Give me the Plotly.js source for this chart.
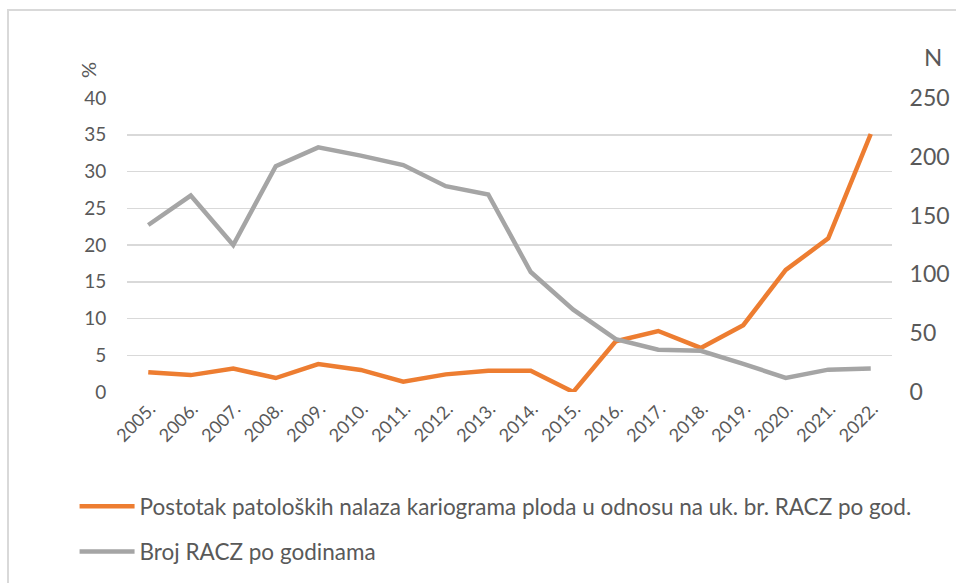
<!DOCTYPE html>
<html>
<head>
<meta charset="utf-8">
<script src="https://cdn.plot.ly/plotly-3.0.1.min.js"></script>
<style>
  html, body { margin: 0; padding: 0; background: #fff; }
  #wrap { position: relative; width: 956px; height: 583px; overflow: hidden; }
  #chart { width: 956px; height: 583px; }
  #frame { position: absolute; left: 7px; top: 9px; width: 960px; height: 590px;
           border-top: 2px solid #d9d9d9; border-left: 2px solid #d9d9d9; pointer-events: none; }
</style>
</head>
<body>
<div id="wrap">
  <div id="chart"></div>
  <div id="frame"></div>
</div>
<script>
const years = ["2005.","2006.","2007.","2008.","2009.","2010.","2011.","2012.","2013.",
               "2014.","2015.","2016.","2017.","2018.","2019.","2020.","2021.","2022."];
const percentPathological = [2.7, 2.3, 3.2, 1.9, 3.8, 3.0, 1.4, 2.4, 2.9,
                             2.9, 0.0, 6.9, 8.3, 6.0, 9.1, 16.6, 20.9, 35.1];
const countRACZ = [142, 167, 125, 192, 208, 201, 193, 175, 168,
                   102, 70, 45, 36, 35, 24, 12, 19, 20];
const seriesNames = ["Postotak patoloških nalaza kariograma ploda u odnosu na uk. br. RACZ po god.",
                     "Broj RACZ po godinama"];

const FONT = "Lato, 'Open Sans', sans-serif";
const TXT = "#595959";

const traces = [
  { x: years, y: percentPathological, name: seriesNames[0], type: "scatter", mode: "lines",
    line: { color: "#ED7D31", width: 4.5 }, yaxis: "y", legendgroup: "a" },
  { x: years, y: countRACZ, name: seriesNames[1], type: "scatter", mode: "lines",
    line: { color: "#A5A5A5", width: 4.5 }, yaxis: "y2", legendgroup: "b" }
];

const layout = {
  width: 956, height: 583,
  margin: { l: 127, r: 64, t: 98, b: 191, autoexpand: false },
  paper_bgcolor: "#fff", plot_bgcolor: "#fff",
  font: { family: FONT, color: TXT, size: 18 },
  showlegend: true,
  legend: {
    orientation: "v", xref: "container", yref: "container",
    x: 0.078, y: 0.168, xanchor: "left", yanchor: "top",
    font: { family: FONT, size: 22.5, color: TXT },
    tracegroupgap: 13, itemwidth: 55, traceorder: "grouped"
  },
  xaxis: {
    type: "category", range: [-0.5, years.length - 0.5], tickangle: -45,
    showgrid: false, zeroline: false,
    showline: false, ticks: "", ticklabelshift: 2, ticklabelstandoff: 2,
    tickfont: { size: 18, color: TXT, family: FONT },
    fixedrange: true
  },
  yaxis: {
    range: [0, 40], dtick: 5, tick0: 0, showgrid: true, gridcolor: "#d9d9d9", gridwidth: 1.5,
    zeroline: false, showline: false, ticks: "outside", ticklen: 16, tickcolor: "rgba(0,0,0,0)",
    tickfont: { size: 19, color: TXT, family: FONT }
  },
  yaxis2: {
    range: [0, 250], dtick: 50, tick0: 0, overlaying: "y", side: "right", showgrid: false,
    zeroline: false, showline: false, ticks: "outside", ticklen: 12, tickcolor: "rgba(0,0,0,0)",
    tickfont: { size: 23, color: TXT, family: FONT }
  },
  annotations: [
    { text: "%", xref: "paper", yref: "paper", x: -0.05, y: 1.06, xanchor: "center", yanchor: "bottom",
      showarrow: false, textangle: -90, font: { size: 20, color: TXT, family: FONT } },
    { text: "N", xref: "paper", yref: "paper", x: 1.053, y: 1.085, xanchor: "center", yanchor: "bottom",
      showarrow: false, font: { size: 24, color: TXT, family: FONT } }
  ]
};

Plotly.newPlot("chart", traces, layout, { displayModeBar: false, staticPlot: true });
</script>
</body>
</html>
